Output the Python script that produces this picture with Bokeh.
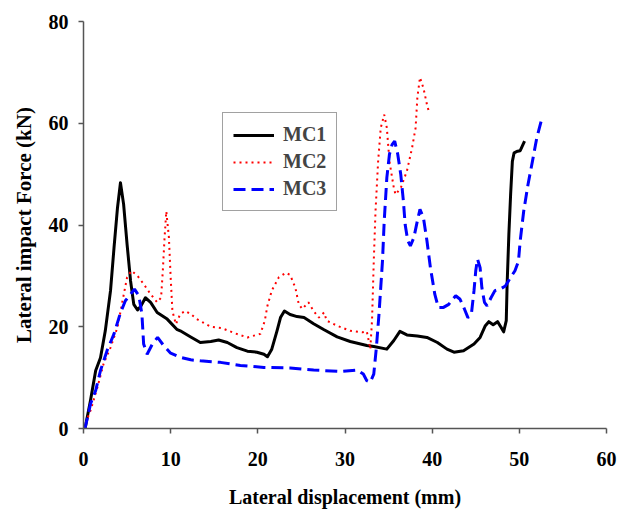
from bokeh.plotting import figure
from bokeh.models import Legend, LegendItem, FixedTicker
from bokeh.embed import file_html
from bokeh.resources import INLINE

mc1_x = [0, 0.2, 0.8, 1.4, 1.95, 2.5, 3.1, 3.5, 3.9, 4.24, 4.6, 5.0, 5.4, 5.77, 6.2, 6.6, 7.1, 7.7,
         8.45, 9.6, 10.7, 11.1, 12.3, 13.4, 14.6, 15.5, 16.5, 17.6, 18.8, 19.9, 20.7, 21.1, 21.6,
         22.2, 22.6, 23.05, 23.7, 24.5, 25.3, 26.4, 27.6, 29.1, 30.6, 32.5, 33.3, 34.8, 35.6, 36.3,
         37.1, 38.3, 39.4, 40.6, 41.7, 42.5, 43.6, 44.8, 45.5, 46.1, 46.5, 47.0, 47.5, 47.9, 48.2,
         48.5, 48.6, 48.8, 49.0, 49.2, 49.4, 49.8, 50.1, 50.6]
mc1_y = [0, 0.2, 5.5, 11.4, 13.9, 19.2, 27.1, 35.5, 43.4, 48.3, 44.1, 36.2, 29.0, 24.4, 23.3, 24.1,
         25.7, 24.8, 22.8, 21.5, 19.5, 19.2, 18.0, 16.9, 17.1, 17.4, 16.9, 15.9, 15.2, 15.0, 14.6,
         14.1, 15.6, 19.2, 21.8, 23.1, 22.4, 22.0, 21.8, 20.6, 19.4, 18.0, 17.1, 16.3, 16.1, 15.6,
         17.3, 19.1, 18.4, 18.2, 17.9, 16.9, 15.6, 15.0, 15.3, 16.6, 17.9, 20.2, 21.0, 20.4, 21.0,
         19.9, 19.0, 21.2, 28.4, 38.2, 46.0, 52.5, 54.2, 54.5, 54.6, 56.5]

mc2_x = [0, 0.2, 0.8, 1.6, 2.3, 3.1, 3.9, 4.4, 5.0, 5.5, 6.2, 6.9, 7.7, 8.45, 8.9, 9.1, 9.3, 9.5,
         9.8, 10.0, 10.2, 10.6, 11.1, 11.7, 12.3, 13.0, 14.6, 15.9, 17.4, 18.8, 20.3, 20.8, 21.1,
         21.6, 22.4, 23.2, 23.7, 24.3, 24.7, 25.1, 25.8, 26.4, 27.0, 27.6, 27.9, 29.1, 30.6, 32.0,
         32.5, 32.8, 32.9, 33.1, 33.3, 33.5, 33.8, 34.1, 34.5, 34.8, 35.1, 35.6, 35.8, 36.4, 37.1,
         37.7, 38.1, 38.3, 38.6, 39.0, 39.4, 39.6]
mc2_y = [0, 0.9, 3.5, 8.1, 12.7, 15.9, 19.9, 24.4, 29.7, 31.0, 30.0, 28.4, 26.4, 24.8, 25.7, 31.0,
         37.5, 42.7, 37.5, 29.7, 23.1, 20.5, 22.5, 23.1, 22.5, 21.5, 20.0, 19.7, 18.7, 17.9, 18.6,
         21.2, 24.1, 27.1, 29.7, 30.6, 30.2, 27.7, 24.4, 23.5, 24.8, 23.1, 21.8, 22.8, 21.2, 20.2,
         19.2, 18.9, 19.1, 16.6, 15.6, 21.2, 32.9, 42.7, 52.5, 59.1, 61.7, 59.1, 52.5, 47.3, 46.0,
         47.3, 50.6, 55.2, 59.1, 65.0, 69.0, 66.9, 63.7, 62.4]

mc3_x = [0, 0.2, 0.8, 1.4, 1.95, 2.7, 3.5, 4.2, 4.8, 5.4, 5.85, 6.35, 6.7, 6.9, 7.3, 7.9, 8.5, 9.2,
         10.0, 11.1, 12.3, 13.4, 15.7, 18.0, 20.7, 23.7, 26.4, 29.5, 31.4, 32.1, 32.5, 32.9, 33.3,
         33.6, 33.9, 34.3, 34.5, 34.8, 35.1, 35.4, 35.7, 36.05, 36.4, 36.7, 36.9, 37.2, 37.5, 37.9,
         38.3, 38.6, 39.0, 39.4, 39.8, 40.3, 40.7, 41.3, 41.9, 42.7, 43.2, 43.7, 44.1, 44.5, 44.8,
         45.0, 45.2, 45.5, 45.7, 46.0, 46.3, 46.75, 47.2, 47.8, 48.4, 49.0, 49.5, 49.9, 50.1, 50.5,
         51.0, 51.5, 52.0, 52.5]
mc3_y = [0, 0.2, 4.8, 7.5, 11.4, 15.3, 18.6, 22.5, 25.1, 26.4, 27.4, 26.1, 22.5, 16.6, 14.6, 16.6,
         17.9, 16.3, 14.8, 14.0, 13.5, 13.3, 13.0, 12.4, 12.0, 11.9, 11.5, 11.2, 11.5, 10.7, 9.4,
         9.1, 10.7, 15.9, 22.5, 32.9, 40.8, 49.3, 53.9, 55.8, 56.5, 53.9, 49.9, 44.7, 40.1, 36.9,
         35.9, 37.5, 40.8, 43.1, 41.4, 36.9, 31.6, 26.4, 23.8, 23.8, 24.4, 26.1, 25.4, 23.5, 21.8,
         22.5, 27.1, 31.0, 33.3, 31.6, 27.7, 24.8, 24.1, 25.7, 27.1, 27.4, 28.0, 29.7, 31.0, 32.9,
         36.9, 42.7, 48.0, 52.5, 57.1, 60.4]

x_ticks = [0, 10, 20, 30, 40, 50, 60]
y_ticks = [0, 20, 40, 60, 80]
series_names = ["MC1", "MC2", "MC3"]

FONT = "Liberation Serif"

p = figure(width=620, height=510, output_backend="svg", toolbar_location=None,
           x_range=(0, 60), y_range=(0, 80),
           min_border_left=83, min_border_right=14, min_border_top=21, min_border_bottom=60)
p.outline_line_color = None
p.xgrid.visible = False
p.ygrid.visible = False

r1 = p.line(mc1_x, mc1_y, line_color="black", line_width=3, line_join="round")
r2 = p.line(mc2_x, mc2_y, line_color="red", line_width=2, line_dash="2 4")
r3 = p.line(mc3_x, mc3_y, line_color="blue", line_width=3, line_dash="12 6")

for ax in (p.xaxis[0], p.yaxis[0]):
    ax.axis_line_color = "#555555"
    ax.axis_line_width = 1.5
    ax.major_tick_line_color = "#555555"
    ax.major_tick_line_width = 1.5
    ax.major_tick_out = 5
    ax.major_tick_in = 0
    ax.minor_tick_line_color = None
    ax.major_label_text_font = FONT
    ax.major_label_text_font_style = "bold"
    ax.major_label_text_font_size = "20px"
    ax.major_label_text_color = "black"
    ax.axis_label_text_font = FONT
    ax.axis_label_text_font_style = "bold"
    ax.axis_label_text_color = "black"

p.xaxis.axis_label_text_font_size = "20px"
p.yaxis.axis_label_text_font_size = "21px"
p.xaxis.ticker = FixedTicker(ticks=x_ticks)
p.yaxis.ticker = FixedTicker(ticks=y_ticks)
p.xaxis.axis_label = "Lateral displacement (mm)"
p.yaxis.axis_label = "Lateral impact Force (kN)"
p.xaxis.major_label_standoff = 18
p.yaxis.major_label_standoff = 10
p.xaxis.axis_label_standoff = 17
p.yaxis.axis_label_standoff = 10

legend = Legend(items=[LegendItem(label=series_names[0], renderers=[r1]),
                       LegendItem(label=series_names[1], renderers=[r2]),
                       LegendItem(label=series_names[2], renderers=[r3])],
                location=(139, 217))
legend.border_line_color = "#444444"
legend.border_line_width = 1.5
legend.padding = 10
legend.spacing = 4
legend.label_height = 22
legend.glyph_height = 22
legend.glyph_width = 41
legend.label_standoff = 9
legend.margin = 0
legend.label_text_font = FONT
legend.label_text_font_style = "bold"
legend.label_text_font_size = "20px"
legend.background_fill_alpha = 1.0
p.add_layout(legend, "center")

open("out.html", "w").write(file_html(p, INLINE))
